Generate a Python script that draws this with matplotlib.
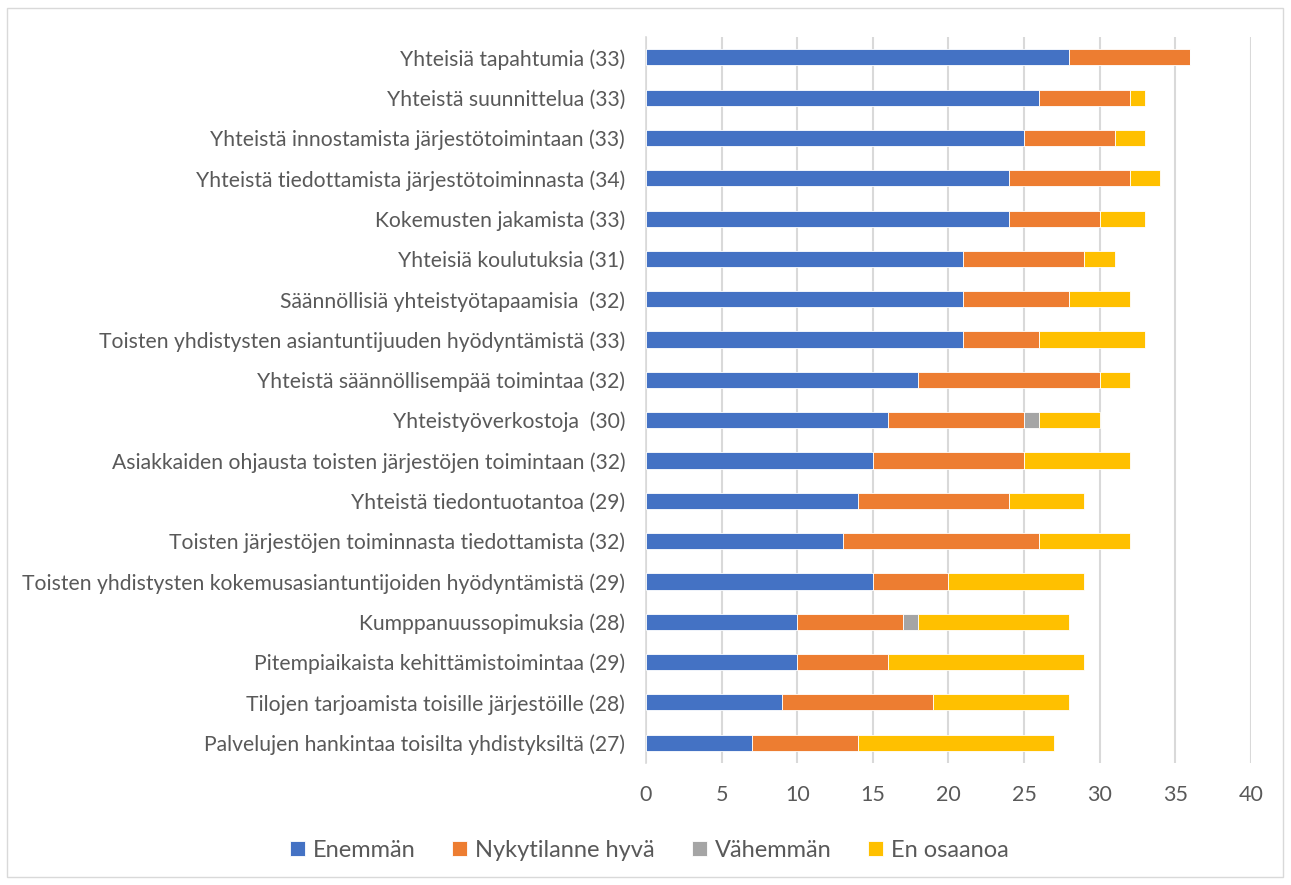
import matplotlib.pyplot as plt
import numpy as np
from matplotlib.patches import Rectangle

# Categories, top to bottom as shown in the chart
labels = [
    "Yhteisiä tapahtumia (33)",
    "Yhteistä suunnittelua (33)",
    "Yhteistä innostamista järjestötoimintaan (33)",
    "Yhteistä tiedottamista järjestötoiminnasta (34)",
    "Kokemusten jakamista (33)",
    "Yhteisiä koulutuksia (31)",
    "Säännöllisiä yhteistyötapaamisia  (32)",
    "Toisten yhdistysten asiantuntijuuden hyödyntämistä (33)",
    "Yhteistä säännöllisempää toimintaa (32)",
    "Yhteistyöverkostoja  (30)",
    "Asiakkaiden ohjausta toisten järjestöjen toimintaan (32)",
    "Yhteistä tiedontuotantoa (29)",
    "Toisten järjestöjen toiminnasta tiedottamista (32)",
    "Toisten yhdistysten kokemusasiantuntijoiden hyödyntämistä (29)",
    "Kumppanuussopimuksia (28)",
    "Pitempiaikaista kehittämistoimintaa (29)",
    "Tilojen tarjoamista toisille järjestöille (28)",
    "Palvelujen hankintaa toisilta yhdistyksiltä (27)",
]

enemman = [28, 26, 25, 24, 24, 21, 21, 21, 18, 16, 15, 14, 13, 15, 10, 10, 9, 7]
nykytilanne = [8, 6, 6, 8, 6, 8, 7, 5, 12, 9, 10, 10, 13, 5, 7, 6, 10, 7]
vahemman = [0, 0, 0, 0, 0, 0, 0, 0, 0, 1, 0, 0, 0, 0, 1, 0, 0, 0]
en_osaa = [0, 1, 2, 2, 3, 2, 4, 7, 2, 4, 7, 5, 6, 9, 10, 13, 9, 13]

series = [
    ("Enemmän", enemman, "#4472C4"),
    ("Nykytilanne hyvä", nykytilanne, "#ED7D31"),
    ("Vähemmän", vahemman, "#A5A5A5"),
    ("En osaanoa", en_osaa, "#FFC000"),
]

text_color = "#595959"
plt.rcParams["font.family"] = ["Lato", "DejaVu Sans"]

fig = plt.figure(figsize=(12.91, 8.85), dpi=100)
ax = fig.add_axes([0.5004, 0.138, 0.4684, 0.820])

y = np.arange(len(labels))
left = np.zeros(len(labels))
for name, vals, color in series:
    vals = np.array(vals, dtype=float)
    ax.barh(y, vals, left=left, height=0.4, color=color, label=name,
            edgecolor="white", linewidth=0.6, zorder=3)
    left += vals

ax.set_ylim(len(labels) - 0.5, -0.5)
ax.set_xlim(0, 40)
ax.set_xticks(range(0, 41, 5))
ax.set_yticks(y)
ax.set_yticklabels(labels)
ax.grid(axis="x", color="#D9D9D9", linewidth=1.5, zorder=0)

for s in ["top", "right", "bottom"]:
    ax.spines[s].set_visible(False)
ax.spines["left"].set_color("#D9D9D9")
ax.spines["left"].set_linewidth(1.2)

ax.tick_params(axis="y", length=0, pad=15, labelsize=15.2, labelcolor=text_color)
ax.tick_params(axis="x", length=0, pad=16, labelsize=15.5, labelcolor=text_color)

leg = fig.legend(loc="center", bbox_to_anchor=(0.503, 0.039), ncol=4,
                 frameon=False, fontsize=17, handlelength=0.64,
                 handleheight=0.64, handletextpad=0.34, columnspacing=1.55)
for t in leg.get_texts():
    t.set_color(text_color)

# chart border
fig.patches.append(Rectangle((7 / 1291, 8 / 885), 1276 / 1291, 869 / 885,
                             transform=fig.transFigure, fill=False,
                             edgecolor="#D9D9D9", linewidth=1))

fig.savefig("out.png", dpi=100)
